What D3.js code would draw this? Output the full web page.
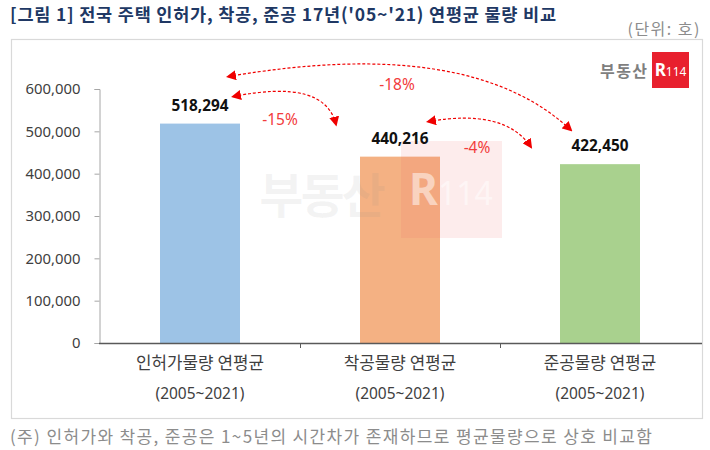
<!DOCTYPE html>
<html><head><meta charset="utf-8">
<script src="https://cdn.jsdelivr.net/npm/d3@7"></script>
<style>
body{margin:0;background:#fff;}
svg text{font-family:"Noto Sans CJK KR","Noto Sans",sans-serif;}
</style></head>
<body><svg id="c" width="710" height="450"></svg>
<script>
const categories = ["인허가물량 연평균", "착공물량 연평균", "준공물량 연평균"];
const periods = ["(2005~2021)", "(2005~2021)", "(2005~2021)"];
const values = [518294, 440216, 422450];
const colors = ["#9DC3E6", "#F4B183", "#A9D18E"];
const yTicks = [0, 100000, 200000, 300000, 400000, 500000, 600000];
const changes = [
  {from:0, to:1, label:"-15%"},
  {from:1, to:2, label:"-4%"},
  {from:0, to:2, label:"-18%"}
];

const svg = d3.select("#c");
const x = d3.scaleBand().domain(d3.range(categories.length)).range([100, 700]).padding(0);
const y = d3.scaleLinear().domain([0, 600000]).range([343, 89]);
const bw = x.bandwidth();
const cx = i => x(i) + bw/2;

function fitSize(sel, w, maxSize) {
  const node = sel.node();
  const fs = +sel.attr("font-size");
  const cur = node.getComputedTextLength();
  let nf = fs * w / cur;
  if (maxSize && nf > maxSize) nf = maxSize;
  sel.attr("font-size", nf);
  const cur2 = node.getComputedTextLength();
  const n = node.getNumberOfChars();
  if (n > 1 && Math.abs(w - cur2) > 1) sel.attr("letter-spacing", (w - cur2) / (n - 1));
  return nf;
}

// title
svg.append("text").attr("x", 10).attr("y", 21).attr("font-size", 16.5).attr("font-weight", "bold")
  .attr("fill", "#203864").text("[그림 1] 전국 주택 인허가, 착공, 준공 17년('05~'21) 연평균 물량 비교")
  .call(fitSize, 546, 17.5);
svg.append("text").attr("x", 701).attr("y", 35).attr("text-anchor", "end").attr("font-size", 15)
  .attr("fill", "#8c8c8c").text("(단위: 호)").call(fitSize, 72, 16);

// frame
svg.append("rect").attr("x", 11.5).attr("y", 39.5).attr("width", 691).attr("height", 379)
  .attr("fill", "none").attr("stroke", "#d9d9d9").attr("stroke-width", 1.2);

// logo
svg.append("text").attr("x", 600).attr("y", 77).attr("font-size", 15)
  .attr("font-weight", "bold").attr("fill", "#7f7f7f").text("부동산").call(fitSize, 47, 16);
svg.append("rect").attr("x", 652).attr("y", 52).attr("width", 37).attr("height", 36).attr("fill", "#E8202E");
const lg = svg.append("text").attr("x", 670.5).attr("y", 76).attr("text-anchor", "middle")
  .attr("font-weight", "bold").attr("fill", "#fff").style("font-family", '"Noto Sans",sans-serif');
lg.append("tspan").attr("font-size", 17).text("R");
lg.append("tspan").attr("font-size", 12).attr("font-weight", "normal").text("114");

// y axis
const yAxis = svg.append("g").attr("transform", "translate(99.5,0)")
  .call(d3.axisLeft(y).tickValues(yTicks).tickSize(5).tickPadding(14).tickFormat(d3.format(",")));
yAxis.select(".domain").attr("stroke", "#a6a6a6");
yAxis.selectAll(".tick line").attr("stroke", "#a6a6a6");
const yt = yAxis.selectAll("text").attr("font-size", 15).attr("fill", "#404040")
  .style("font-family", '"Noto Sans","Noto Sans CJK KR",sans-serif');
const yfs = fitSize(yt.filter(d => d === 600000), 55, 16);
yt.attr("font-size", yfs).attr("letter-spacing", yt.filter(d => d === 600000).attr("letter-spacing"));

// bars
svg.append("g").selectAll("rect").data(values).join("rect")
  .attr("x", (d,i) => x(i) + bw*0.3).attr("width", bw*0.4)
  .attr("y", d => y(d)).attr("height", d => y(0) - y(d))
  .attr("fill", (d,i) => colors[i]);

// x axis
const xg = svg.append("g");
xg.append("line").attr("x1", 99).attr("x2", 702).attr("y1", y(0)+0.5).attr("y2", y(0)+0.5)
  .attr("stroke", "#595959").attr("stroke-width", 1.3);
xg.selectAll("line.tk").data(d3.range(1, categories.length)).join("line").attr("class","tk")
  .attr("x1", i => x(i)+0.5).attr("x2", i => x(i)+0.5).attr("y1", y(0)).attr("y2", y(0)+5)
  .attr("stroke", "#595959");
const ct = xg.selectAll("text.c").data(categories).join("text").attr("class","c")
  .attr("x", (d,i) => cx(i)).attr("y", 369).attr("text-anchor", "middle")
  .attr("font-size", 15.5).attr("fill", "#404040").text(d => d);
const cfs = fitSize(ct.filter((d,i) => i === 0), 128, 17);
ct.attr("font-size", cfs).attr("letter-spacing", ct.filter((d,i) => i === 0).attr("letter-spacing"));
const pt = xg.selectAll("text.p").data(periods).join("text").attr("class","p")
  .attr("x", (d,i) => cx(i)).attr("y", 399).attr("text-anchor", "middle")
  .attr("font-size", 15).attr("fill", "#404040")
  .style("font-family", '"Noto Sans","Noto Sans CJK KR",sans-serif').text(d => d);
const pfs = fitSize(pt.filter((d,i) => i === 0), 89, 16);
pt.attr("font-size", pfs).attr("letter-spacing", pt.filter((d,i) => i === 0).attr("letter-spacing"));

// watermark
const wm = svg.append("g");
wm.append("text").attr("x", 321).attr("y", 213).attr("text-anchor", "middle").attr("font-size", 48)
  .attr("font-weight", "bold").attr("fill", "#888").attr("fill-opacity", 0.09).attr("letter-spacing", -3).text("부동산");
wm.append("rect").attr("x", 401).attr("y", 141).attr("width", 101).attr("height", 97)
  .attr("fill", "#f06060").attr("fill-opacity", 0.12);
const wr = wm.append("text").attr("x", 451).attr("y", 205).attr("text-anchor", "middle")
  .attr("font-weight", "bold").attr("fill", "#ffffff").attr("fill-opacity", 0.5)
  .style("font-family", '"Noto Sans",sans-serif');
wr.append("tspan").attr("font-size", 44).text("R");
wr.append("tspan").attr("font-size", 32).attr("font-weight", "normal").text("114");

// value labels
const vt = svg.append("g").selectAll("text").data(values).join("text")
  .attr("x", (d,i) => cx(i)).attr("y", d => y(d) - 13).attr("text-anchor", "middle")
  .attr("font-size", 14.5).attr("font-weight", "bold").attr("fill", "#111")
  .style("font-family", '"Noto Sans","Noto Sans CJK KR",sans-serif')
  .text(d => d3.format(",")(d));
const vfs = fitSize(vt.filter((d,i) => i === 0), 57, 16);
vt.attr("font-size", vfs).attr("letter-spacing", vt.filter((d,i) => i === 0).attr("letter-spacing"));

// arrows
const defs = svg.append("defs");
defs.append("marker").attr("id", "ah").attr("viewBox", "0 0 10 10").attr("refX", 8).attr("refY", 5)
  .attr("markerWidth", 10).attr("markerHeight", 10).attr("markerUnits", "userSpaceOnUse")
  .attr("orient", "auto-start-reverse")
  .append("path").attr("d", "M0,0 L10,5 L0,10 Z").attr("fill", "#F00000");

const geo = [
  {s:[33,-27], e:[-64,-32], c:[325,78], t:[280,125]},
  {s:[28,-35], e:[-69,-17], c:[505,108], t:[477,153]},
  {s:[28,-47], e:[-29,-34], c:[470,35], t:[397,90]}
];
changes.forEach((ch, k) => {
  const g = geo[k];
  const p0 = [cx(ch.from) + g.s[0], y(values[ch.from]) + g.s[1]];
  const p2 = [cx(ch.to) + g.e[0], y(values[ch.to]) + g.e[1]];
  const path = d3.path();
  path.moveTo(p0[0], p0[1]);
  path.quadraticCurveTo(g.c[0], g.c[1], p2[0], p2[1]);
  svg.append("path").attr("d", path.toString()).attr("fill", "none").attr("stroke", "#F00000")
    .attr("stroke-width", 1.2).attr("stroke-dasharray", "3,2")
    .attr("marker-start", "url(#ah)").attr("marker-end", "url(#ah)");
  svg.append("text").attr("x", g.t[0]).attr("y", g.t[1]).attr("text-anchor", "middle")
    .attr("font-size", 15.5).attr("fill", "#F23C3C")
    .style("font-family", '"Noto Sans","Noto Sans CJK KR",sans-serif').text(ch.label);
});

// footnote
svg.append("text").attr("x", 10).attr("y", 443).attr("font-size", 16).attr("fill", "#8c8c8c")
  .text("(주) 인허가와 착공, 준공은 1~5년의 시간차가 존재하므로 평균물량으로 상호 비교함")
  .call(fitSize, 642, 17);
</script></body></html>
